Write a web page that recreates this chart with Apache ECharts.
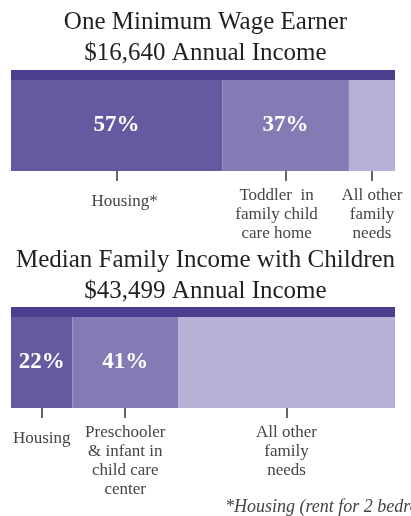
<!DOCTYPE html>
<html>
<head>
<meta charset="utf-8">
<script src="https://cdn.jsdelivr.net/npm/echarts@6/dist/echarts.min.js"></script>
<style>
html, body { margin: 0; padding: 0; background: #fff; }
#chart { width: 411px; height: 516px; }
</style>
</head>
<body>
<div id="chart"></div>
<script>
// data
const minWageTitle = ['One Minimum Wage Earner', '$16,640 Annual Income']
const minWageCats = ['Housing*', 'Toddler  in\nfamily child\ncare home', 'All other\nfamily\nneeds']
const minWageShare = ['57%', '37%', '']
const minWageWidth = [55, 33, 12] // segment widths as drawn

const medianTitle = ['Median Family Income with Children', '$43,499 Annual Income']
const medianCats = ['Housing', 'Preschooler\n& infant in\nchild care\ncenter', 'All other\nfamily\nneeds']
const medianShare = ['22%', '41%', '']
const medianWidth = [16, 27.5, 56.5]

const footnote = '*Housing (rent for 2 bedroom apartment)'

// styling
const segColors = ['#655a9f', '#847ab4', '#b7b1d5']
const stripeColor = '#4a3e8e'
const serif = 'Liberation Serif'
// rich style used for each category label (nudges like the original layout)
const minWageLabelStyle = ['lowR', 'left', null]
const medianLabelStyle = ['low', null, null]
const labelRich = {
    low: { lineHeight: 31 },
    lowR: { lineHeight: 31, padding: [0, 0, 0, 16] },
    left: { padding: [0, 18, 0, 0] }
}

const grids = [], xAxes = [], yAxes = [], series = []

function addBlock (widths, shares, cats, styles, stripeTop, barTop) {
    const gi = grids.length
    grids.push({ left: 11, right: 16, top: stripeTop, height: barTop - stripeTop })
    grids.push({ left: 11, right: 16, top: barTop, height: 91 })

    // mid points of each segment -> ticks and labels
    let acc = 0
    const mids = widths.map(w => { const m = acc + w / 2; acc += w; return m })

    xAxes.push({ gridIndex: gi, type: 'value', min: 0, max: 100, show: false })
    xAxes.push({
        gridIndex: gi + 1, type: 'value', min: 0, max: 100,
        position: 'bottom', offset: 10,
        axisLine: { show: false },
        splitLine: { show: false },
        axisTick: { show: true, inside: true, length: 21, customValues: mids, lineStyle: { color: '#333', width: 1.5 } },
        axisLabel: {
            show: true, customValues: mids, margin: 5,
            color: '#444', fontFamily: serif, fontSize: 17, lineHeight: 19,
            rich: labelRich,
            formatter: v => {
                const i = mids.indexOf(v)
                const st = styles[i]
                if (!st) return cats[i]
                return cats[i].split('\n').map(s => '{' + st + '|' + s + '}').join('\n')
            }
        }
    })
    yAxes.push({ gridIndex: gi, type: 'category', data: ['a'], show: false })
    yAxes.push({ gridIndex: gi + 1, type: 'category', data: ['a'], show: false })

    series.push({
        type: 'bar', xAxisIndex: gi, yAxisIndex: gi, barWidth: '100%', silent: true,
        itemStyle: { color: stripeColor }, data: [100]
    })
    widths.forEach((w, i) => {
        series.push({
            type: 'bar', xAxisIndex: gi + 1, yAxisIndex: gi + 1, stack: 's' + gi,
            barWidth: '100%', silent: true,
            itemStyle: { color: segColors[i] },
            label: {
                show: shares[i] !== '', position: 'inside', formatter: shares[i],
                color: '#fff', fontFamily: serif, fontWeight: 'bold', fontSize: 23
            },
            data: [w]
        })
    })
}

addBlock(minWageWidth, minWageShare, minWageCats, minWageLabelStyle, 70, 80)
addBlock(medianWidth, medianShare, medianCats, medianLabelStyle, 307, 317)

const titleStyle = { fontFamily: serif, fontSize: 25, lineHeight: 31, color: '#231f20', fontWeight: 'normal' }

let option = {
    animation: false,
    title: [
        { text: minWageTitle.join('\n'), left: 'center', top: 7, padding: 0, textStyle: titleStyle },
        { text: medianTitle.join('\n'), left: 'center', top: 245, padding: 0, textStyle: titleStyle },
        {
            text: footnote, left: 225, top: 498, padding: 0,
            textStyle: { fontFamily: serif, fontSize: 18, fontStyle: 'italic', fontWeight: 'normal', color: '#444' }
        }
    ],
    grid: grids,
    xAxis: xAxes,
    yAxis: yAxes,
    series: series
}

let eChart = echarts.init(document.getElementById('chart'))
eChart.setOption(option)
</script>
</body>
</html>
